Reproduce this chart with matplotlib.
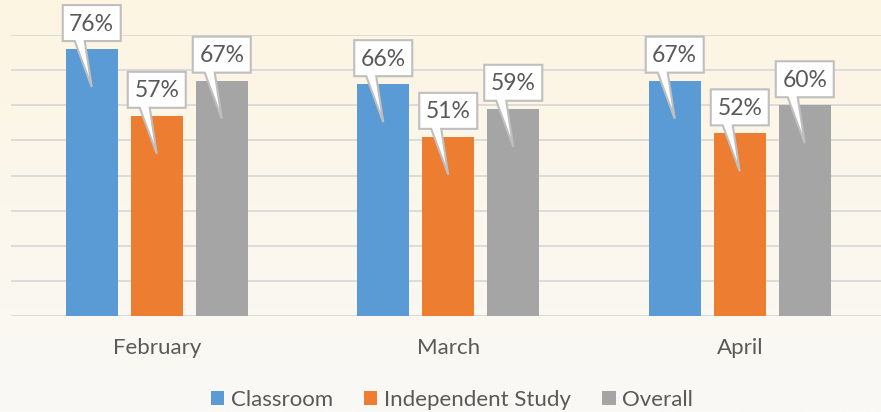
import numpy as np
import matplotlib.pyplot as plt
import matplotlib.transforms as mtransforms
from matplotlib.patches import Polygon, Patch

months = ["February", "March", "April"]
series = ["Classroom", "Independent Study", "Overall"]
classroom = [76, 66, 67]
independent = [57, 51, 52]
overall = [67, 59, 60]
colors = ["#5B9BD5", "#ED7D31", "#A5A5A5"]

plt.rcParams["font.family"] = ["Lato", "DejaVu Sans"]
txt = "#595959"

fig = plt.figure(figsize=(8.81, 4.12), dpi=100)

# background gradient, cream at top fading to off-white
bg = fig.add_axes([0, 0, 1, 1], zorder=-10)
grad = np.linspace(0, 1, 256).reshape(-1, 1)
top = np.array([253, 245, 226]) / 255
bot = np.array([250, 249, 246]) / 255
img = top + (bot - top) * grad[:, :, None]
bg.imshow(img, aspect="auto", extent=[0, 1, 0, 1])
bg.axis("off")

ax = fig.add_axes([11 / 881, 96 / 412, 874.5 / 881, 281 / 412])
ax.set_facecolor("none")

x = np.arange(len(months))
w = 0.177
step = 0.223
data = [classroom, independent, overall]
for i, vals in enumerate(data):
    ax.bar(x + (i - 1) * step, vals, w, color=colors[i], zorder=3)

ax.set_xlim(-0.5, 2.5)
ax.set_ylim(0, 80)
ax.set_yticks(np.arange(0, 81, 10))
ax.yaxis.grid(True, color="#D9D9D9", linewidth=1.3, zorder=0)
ax.tick_params(axis="y", left=False, labelleft=False)
ax.set_xticks(x)
ax.set_xticklabels(months, fontsize=16, color=txt)
ax.tick_params(axis="x", length=0, pad=16)
for s in ax.spines.values():
    s.set_visible(False)
ax.axhline(0, color="#D9D9D9", linewidth=1.5, zorder=1)

# speech-bubble data labels (offsets in pixels from the bar top)
shape = [(-29, 8), (-17, 8), (0, -38), (-7, 8), (29, 8), (29, 44), (-29, 44)]
for i, vals in enumerate(data):
    for j, v in enumerate(vals):
        xc = x[j] + (i - 1) * step
        tr = mtransforms.Affine2D().scale(fig.dpi / 100) + \
            mtransforms.ScaledTranslation(xc, v, ax.transData)
        ax.add_patch(Polygon(shape, closed=True, transform=tr, facecolor="white",
                             edgecolor="#BFBFBF", linewidth=1.5, zorder=5,
                             clip_on=False, joinstyle="miter"))
        ax.text(0, 25, f"{v}%", transform=tr, ha="center", va="center",
                fontsize=16.5, color=txt, zorder=6)

handles = [Patch(facecolor=c, edgecolor="none") for c in colors]
fig.legend(handles, series, loc="center", bbox_to_anchor=(452 / 881, 1 - 400 / 412),
           ncol=3, frameon=False, fontsize=16, labelcolor=txt,
           handlelength=0.6, handleheight=0.6, handletextpad=0.3,
           columnspacing=1.4)

fig.savefig("out.png", dpi=100)
